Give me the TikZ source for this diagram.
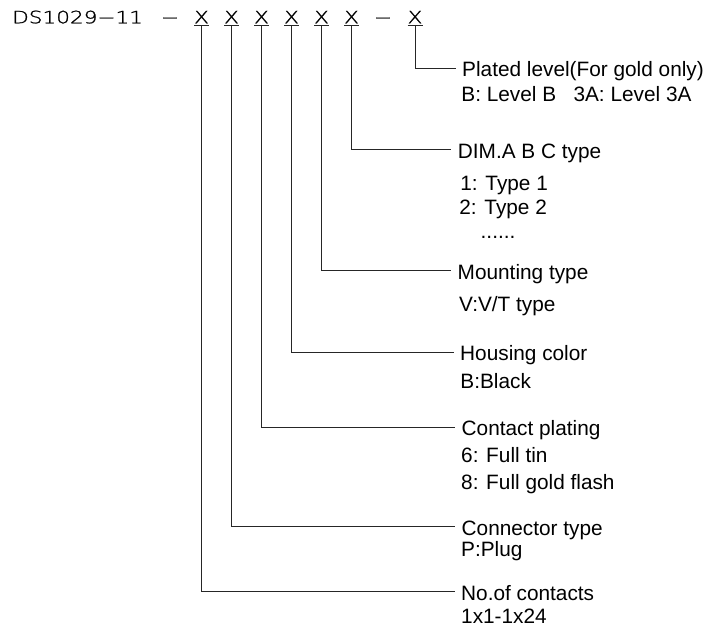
\documentclass[tikz,border=0pt]{standalone}
\usepackage{fontspec}
\setmainfont{Liberation Sans}
\newfontfamily\hdrfont[FakeBold=1.2]{DejaVu Sans ExtraLight}
\newcommand\hdrscale[1]{\scalebox{1.27}[1]{#1}}
\begin{document}
\begin{tikzpicture}[x=1pt,y=-1pt,
  hdr/.style={inner sep=0pt,anchor=base,font=\hdrfont\fontsize{17}{17}\selectfont},
  lbl/.style={inner sep=0pt,anchor=base west,font=\fontsize{20.8}{22}\selectfont},
  conn/.style={line width=0.8pt,color=black!85}]
\useasboundingbox (0,0) rectangle (713,626);
% header
\node[hdr,anchor=base west] (code) at (12,23.3) {\hdrscale{DS1029\char"2212 11}};
\node[hdr] (d1) at (170,23.3) {\hdrscale{\char"2212}};
\node[hdr] (d2) at (383,23.3) {\hdrscale{\char"2212}};
\foreach \i/\xx in {1/201.5,2/231.5,3/261.5,4/291.5,5/321.5,6/351.5,7/415}{
  \node[hdr] (x\i) at (\xx,23.3) {\hdrscale{X}};
  \draw[conn] ([yshift=-2.2pt,xshift=-7.5pt]x\i.south) -- ([yshift=-2.2pt,xshift=7.5pt]x\i.south);
}
% titles
\node[lbl] (t7) at (462,76.7) {Plated level(For gold only)};
\node[lbl] (t6) at (457.7,158) {DIM.A B C type};
\node[lbl] (t5) at (457.5,279) {Mounting type};
\node[lbl] (t4) at (460,360.7) {Housing color};
\node[lbl] (t3) at (461.5,435.7) {Contact plating};
\node[lbl] (t2) at (461.5,535) {Connector type};
\node[lbl] (t1) at (461,600) {No.of contacts};
% descriptions
\node[lbl] (s7a) at (461.2,101.7) {B: Level B\ \ \ 3A: Level 3A};
\node[lbl] (s6a) at (460.2,190) {1: Type 1};
\node[lbl] (s6b) at (459.2,214.3) {2: Type 2};
\node[lbl] (s6c) at (480.5,238) {......};
\node[lbl] (s5a) at (459,311.7) {V:V/T type};
\node[lbl] (s4a) at (460.2,388.3) {B:Black};
\node[lbl] (s3a) at (461,462) {6: Full tin};
\node[lbl] (s3b) at (461,489) {8: Full gold flash};
\node[lbl] (s2a) at (461,556.7) {P:Plug};
\node[lbl] (s1a) at (461,623) {1x1-1x24};
% connectors
\foreach \i in {1,...,7}{
  \draw[conn] ([yshift=-2.2pt]x\i.south) |- ([shift={(-6.5pt,8.5pt)}]t\i.base west);
}
\end{tikzpicture}
\end{document}
